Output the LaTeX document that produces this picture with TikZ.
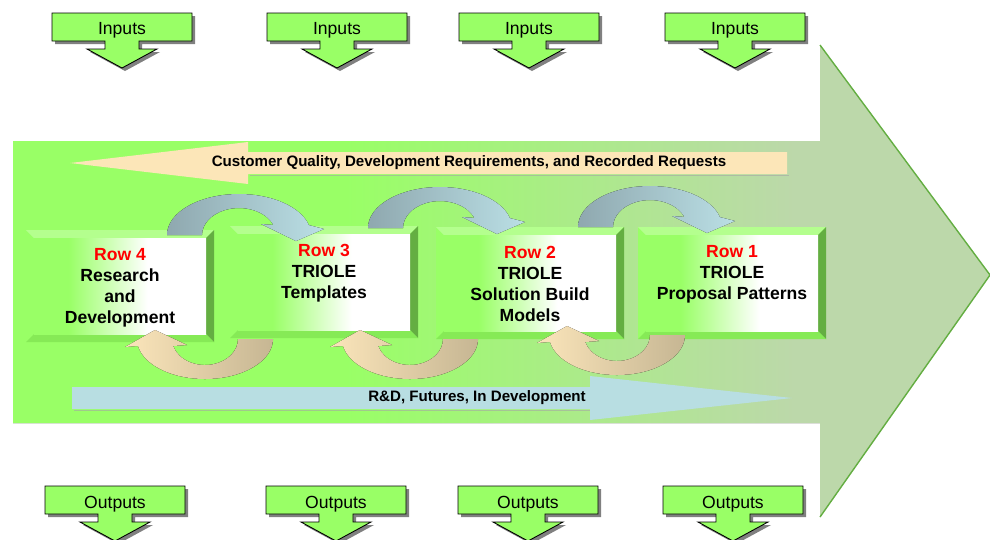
\documentclass[tikz,border=0pt]{standalone}
\usepackage{fontspec}
\setmainfont{Liberation Sans}
\definecolor{arrowlime}{HTML}{99FF66}
\definecolor{sagegreen}{HTML}{BCD8AA}
\definecolor{bevtop}{HTML}{B4FF8E}
\definecolor{bevright}{HTML}{64AE42}
\definecolor{bevbot}{HTML}{86EA56}
\definecolor{peach}{HTML}{FCE6B8}
\definecolor{paleblue}{HTML}{B8DEE2}
\definecolor{arcblue}{HTML}{8FA8AF}
\definecolor{arcpale}{HTML}{BADFE5}
\definecolor{arcpeach}{HTML}{FBE5BA}
\definecolor{arctan}{HTML}{C6B693}
\pgfdeclarehorizontalshading{bodyfill}{100bp}{color(0bp)=(arrowlime); color(42bp)=(arrowlime); color(65bp)=(sagegreen); color(100bp)=(sagegreen)}
\pgfdeclarehorizontalshading{boxfill}{100bp}{color(0bp)=(arrowlime); color(35bp)=(arrowlime); color(58bp)=(white); color(100bp)=(white)}
\tikzset{
  bigarrow/.style={shading=bodyfill},
  headedge/.style={draw=bevright, line width=0.8pt},
  iobox/.style={fill=arrowlime, draw=black, line width=0.5pt},
  ioshadow/.style={fill=black!50},
  iotext/.style={font=\fontsize{10}{12}\selectfont, anchor=base, inner sep=0pt},
  rowtext/.style={font=\bfseries\fontsize{10}{12}\selectfont, align=center, anchor=north, inner sep=0pt},
  bandtext/.style={font=\bfseries\fontsize{8.6}{10}\selectfont, inner sep=0pt},
  bandshadow/.style={fill=black!35, opacity=0.6},
  toparc/.style={left color=arcblue, right color=arcpale},
  botarc/.style={left color=arcpeach, right color=arctan}
}

\begin{document}
\begin{tikzpicture}[x=0.02cm, y=-0.02cm]
  \useasboundingbox (0,0) rectangle (990,539);

  % main process arrow
  \fill[bigarrow] (13,141) -- (820,141) -- (820,45) -- (990,275) -- (820,517) -- (820,423) -- (13,423) -- cycle;
  \draw[headedge] (820,45) -- (990,275) -- (820,517);

  % inputs and outputs
  \foreach \x/\n in {122/1, 337/2, 529/3, 735/4}{
    \foreach \d/\st in {3/ioshadow, 0/iobox}
      \path[\st, shift={(\d,\d)}] (\x-70,13) -- (\x+70,13) -- (\x+70,41) -- (\x+17,41) -- (\x+17,49) -- (\x+35,49)
        -- (\x,68) -- (\x-35,49) -- (\x-17,49) -- (\x-17,41) -- (\x-70,41) -- cycle;
    \node[iotext] (in\n) at (\x,34) {Inputs};
  }
  \foreach \x/\n in {115/1, 336/2, 528/3, 733/4}{
    \foreach \d/\st in {3/ioshadow, 0/iobox}
      \path[\st, shift={(\d,\d)}] (\x-70,486) -- (\x+70,486) -- (\x+70,514) -- (\x+17,514) -- (\x+17,522) -- (\x+35,522)
        -- (\x,541) -- (\x-35,522) -- (\x-17,522) -- (\x-17,514) -- (\x-70,514) -- cycle;
    \node[iotext] (out\n) at (\x,508) {Outputs};
  }

  % feedback and future bands
  \fill[bandshadow] (250,175) -- (789,175) -- (789,176) -- (250,176) -- cycle;
  \fill[peach] (70,163) -- (248,142) -- (248,152) -- (787,152) -- (787,174) -- (248,174) -- (248,184) -- cycle;
  \fill[bandshadow] (74,410) -- (590,410) -- (590,411) -- (74,411) -- cycle;
  \fill[paleblue] (72,387) -- (590,387) -- (590,376) -- (792,398) -- (590,420) -- (590,409) -- (72,409) -- cycle;

  % row boxes
  \foreach \x/\y in {26/230, 230/226, 436/227, 638/227}{
    \fill[arrowlime] (\x,\y) rectangle (\x+188,\y+112);
    \fill[bevtop] (\x,\y) -- (\x+188,\y) -- (\x+180,\y+8) -- (\x+8,\y+8) -- cycle;
    \fill[bevright] (\x+188,\y) -- (\x+188,\y+112) -- (\x+180,\y+104) -- (\x+180,\y+8) -- cycle;
    \fill[bevbot] (\x,\y+112) -- (\x+188,\y+112) -- (\x+180,\y+104) -- (\x+8,\y+104) -- cycle;
    \fill[shading=boxfill] (\x+8,\y+8) rectangle (\x+180,\y+104);
  }

  % curved arrows between rows
  \foreach \cx/\cy in {239/235, 440/228, 650/227}
    \fill[toparc] (\cx-72,\cy) arc[start angle=180, end angle=346, x radius=72, y radius=41]
      -- (\cx+85,\cy-6) -- (\cx+57,\cy+6) -- (\cx+22,\cy-11) -- (\cx+34.3,\cy-10.1)
      arc[start angle=338, end angle=180, x radius=37, y radius=27] -- cycle;
  \foreach \cx/\cy in {205/339, 410/339, 617/335}
    \fill[botarc] (\cx+68,\cy) arc[start angle=0, end angle=170, x radius=68, y radius=40]
      -- (\cx-80,\cy+8) -- (\cx-50,\cy-9) -- (\cx-18,\cy+6) -- (\cx-31.8,\cy+7)
      arc[start angle=164.4, end angle=0, x radius=33, y radius=26] -- cycle;

  \node[bandtext] (cq) at (469,163) {Customer Quality, Development Requirements, and Recorded Requests};
  \node[bandtext] (rd) at (477,398) {R\&D, Futures, In Development};

  \node[rowtext] (row4) at (120,248) {\textcolor{red}{Row 4}\\Research\\and\\Development};
  \node[rowtext] (row3) at (324,244) {\textcolor{red}{Row 3}\\TRIOLE\\Templates};
  \node[rowtext] (row2) at (530,246) {\textcolor{red}{Row 2}\\TRIOLE\\Solution Build\\Models};
  \node[rowtext] (row1) at (732,245) {\textcolor{red}{Row 1}\\TRIOLE\\Proposal Patterns};
\end{tikzpicture}
\end{document}
